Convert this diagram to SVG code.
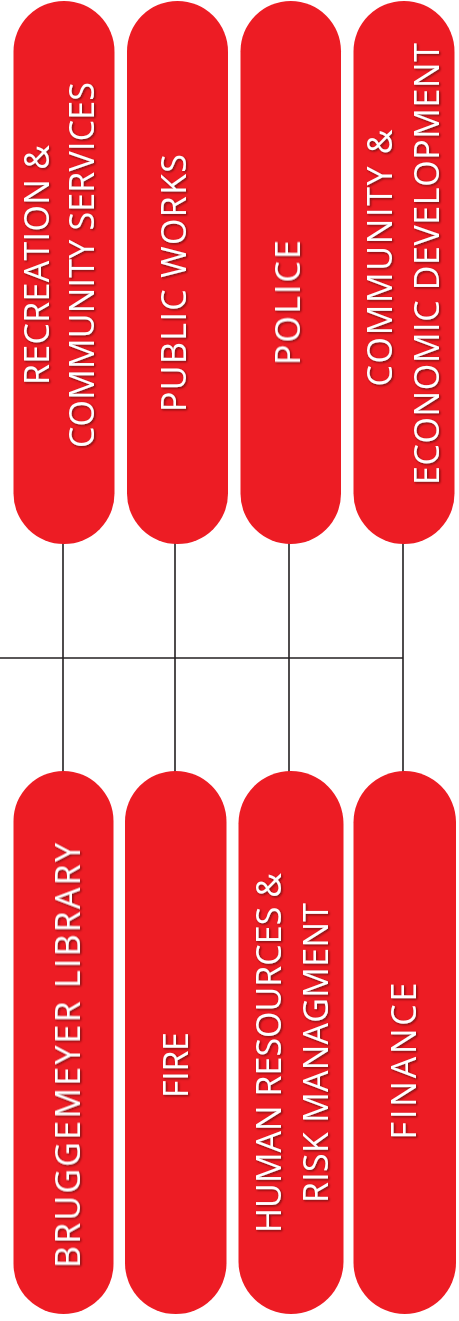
<svg xmlns="http://www.w3.org/2000/svg" width="459" height="1321" viewBox="0 0 459 1321">
<style>
.pill{fill:#ed1c24;}
.lbl{font-family:"Open Sans","Liberation Sans",sans-serif;font-size:34px;font-weight:500;fill:#ffffff;text-anchor:middle;filter:url(#sh);}
.conn{stroke:#231f20;stroke-width:1.6;fill:none;}
</style>
<defs>
<filter id="sh" x="-20%" y="-50%" width="140%" height="200%">
<feDropShadow dx="-1.2" dy="1.2" stdDeviation="0.9" flood-color="#5a0a0d" flood-opacity="0.85"/>
</filter>
</defs>
<rect width="459" height="1321" fill="#ffffff"/>
<g id="connectors">
<line class="conn" x1="0" y1="658" x2="403" y2="658"/>
<line class="conn" x1="63" y1="540" x2="63" y2="775"/>
<line class="conn" x1="175" y1="540" x2="175" y2="775"/>
<line class="conn" x1="289" y1="540" x2="289" y2="775"/>
<line class="conn" x1="403" y1="540" x2="403" y2="775"/>
</g>
<g id="recreation">
<rect class="pill" x="13.5" y="1" width="101" height="543" rx="50.5"/>
<text class="lbl" transform="translate(49,265) rotate(-90)" textLength="240" lengthAdjust="spacing">RECREATION &amp;</text>
<text class="lbl" transform="translate(94,265) rotate(-90)" textLength="366" lengthAdjust="spacing">COMMUNITY SERVICES</text>
</g>
<g id="public-works">
<rect class="pill" x="127" y="1" width="101" height="543" rx="50.5"/>
<text class="lbl" transform="translate(186,283) rotate(-90)" textLength="258" lengthAdjust="spacing">PUBLIC WORKS</text>
</g>
<g id="police">
<rect class="pill" x="240.5" y="1" width="100.5" height="543" rx="50.25"/>
<text class="lbl" transform="translate(300,302.5) rotate(-90)" textLength="125" lengthAdjust="spacing">POLICE</text>
</g>
<g id="community-economic">
<rect class="pill" x="353.5" y="1" width="101" height="543" rx="50.5"/>
<text class="lbl" transform="translate(392,258) rotate(-90)" textLength="257" lengthAdjust="spacing">COMMUNITY &amp;</text>
<text class="lbl" transform="translate(439,264) rotate(-90)" textLength="442" lengthAdjust="spacing">ECONOMIC DEVELOPMENT</text>
</g>
<g id="library">
<rect class="pill" x="13.5" y="771" width="100" height="543" rx="50"/>
<text class="lbl" transform="translate(80,1055.5) rotate(-90)" textLength="425" lengthAdjust="spacing">BRUGGEMEYER LIBRARY</text>
</g>
<g id="fire">
<rect class="pill" x="125" y="771" width="101.5" height="543" rx="50.75"/>
<text class="lbl" transform="translate(188,1065) rotate(-90)" textLength="66" lengthAdjust="spacing">FIRE</text>
</g>
<g id="human-resources">
<rect class="pill" x="238.5" y="771" width="105" height="543" rx="52.5"/>
<text class="lbl" transform="translate(281,1053) rotate(-90)" textLength="360" lengthAdjust="spacing">HUMAN RESOURCES &amp;</text>
<text class="lbl" transform="translate(328,1053) rotate(-90)" textLength="300" lengthAdjust="spacing">RISK MANAGMENT</text>
</g>
<g id="finance">
<rect class="pill" x="353.5" y="771" width="102.5" height="543" rx="51.25"/>
<text class="lbl" transform="translate(416,1061) rotate(-90)" textLength="157" lengthAdjust="spacing">FINANCE</text>
</g>
</svg>
